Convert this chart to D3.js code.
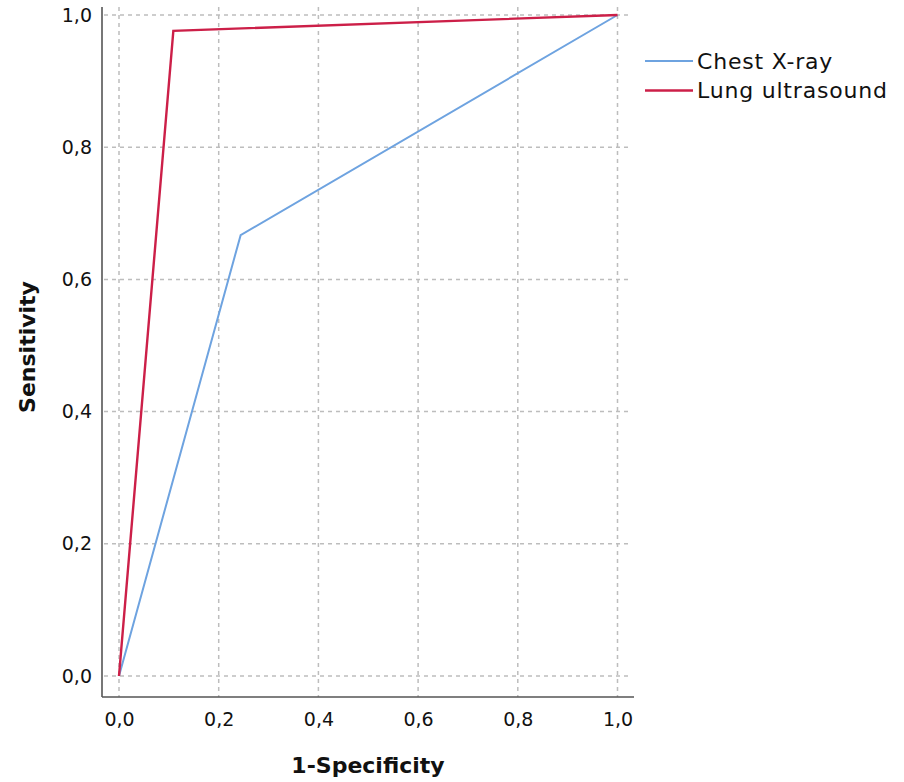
<!DOCTYPE html>
<html>
<head>
<meta charset="utf-8">
<script src="https://cdn.jsdelivr.net/npm/d3@7"></script>
<style>
  html, body { margin: 0; padding: 0; background: #fff; }
  svg { display: block; }
  text { font-family: "DejaVu Sans", sans-serif; fill: #111; }
</style>
</head>
<body>
<svg id="chart" width="904" height="782"></svg>
<script>
// ROC curves: 1-specificity vs sensitivity
const seriesNames = ["Chest X-ray", "Lung ultrasound"];
const seriesColors = ["#6ea3e0", "#cc1f48"];
const chestFpr = [0, 0.244, 1];
const chestTpr = [0, 0.667, 1];
const lungFpr = [0, 0.109, 1];
const lungTpr = [0, 0.976, 1];
const tickValues = [0, 0.2, 0.4, 0.6, 0.8, 1.0];
const tickLabels = ["0,0", "0,2", "0,4", "0,6", "0,8", "1,0"];

const svg = d3.select("#chart");

const x = d3.scaleLinear().domain([0, 1]).range([119, 617.5]);
const y = d3.scaleLinear().domain([0, 1]).range([676, 15]);

const axisLeftX = 102, axisBottomY = 697, plotTop = 7, plotRight = 634;

// dashed grid
const grid = svg.append("g").attr("stroke", "#bdbdbd").attr("stroke-width", 1.5)
  .attr("stroke-dasharray", "4,4");
grid.selectAll("line.h").data(tickValues).join("line")
  .attr("class", "h")
  .attr("x1", axisLeftX + 2).attr("x2", 628)
  .attr("y1", d => y(d)).attr("y2", d => y(d));
grid.selectAll("line.v").data(tickValues).join("line")
  .attr("class", "v")
  .attr("x1", d => x(d)).attr("x2", d => x(d))
  .attr("y1", plotTop).attr("y2", axisBottomY);

// axes built with d3 axis generators, using the custom labels
const xAxis = d3.axisBottom(x).tickValues(tickValues)
  .tickFormat((d, i) => tickLabels[i]).tickSize(0).tickPadding(16);
const yAxis = d3.axisLeft(y).tickValues(tickValues)
  .tickFormat((d, i) => tickLabels[i]).tickSize(0).tickPadding(10);

const gx = svg.append("g").attr("transform", `translate(0,${axisBottomY})`).call(xAxis);
gx.select(".domain").remove();
gx.selectAll("text").attr("font-size", 19).attr("font-family", "DejaVu Sans").attr("fill", "#111");

const gy = svg.append("g").attr("transform", `translate(${axisLeftX},0)`).call(yAxis);
gy.select(".domain").remove();
gy.selectAll("text").attr("font-size", 19).attr("font-family", "DejaVu Sans").attr("fill", "#111");

// axis lines
svg.append("line").attr("x1", axisLeftX).attr("x2", axisLeftX)
  .attr("y1", plotTop).attr("y2", axisBottomY)
  .attr("stroke", "#555").attr("stroke-width", 1.6);
svg.append("line").attr("x1", axisLeftX).attr("x2", plotRight)
  .attr("y1", axisBottomY).attr("y2", axisBottomY)
  .attr("stroke", "#555").attr("stroke-width", 1.6);

// curves
const line = d3.line().x(d => x(d[0])).y(d => y(d[1]));
const curves = [
  { name: seriesNames[0], color: seriesColors[0], width: 2, pts: chestFpr.map((v, i) => [v, chestTpr[i]]) },
  { name: seriesNames[1], color: seriesColors[1], width: 2.4, pts: lungFpr.map((v, i) => [v, lungTpr[i]]) }
];
svg.append("g").selectAll("path").data(curves).join("path")
  .attr("d", d => line(d.pts))
  .attr("fill", "none")
  .attr("stroke", d => d.color)
  .attr("stroke-width", d => d.width)
  .attr("stroke-linejoin", "miter");

// axis titles
svg.append("text").attr("x", 368).attr("y", 773)
  .attr("text-anchor", "middle").attr("font-size", 22).attr("font-weight", "bold")
  .text("1-Specificity");
svg.append("text").attr("transform", "translate(35,347) rotate(-90)")
  .attr("text-anchor", "middle").attr("font-size", 22).attr("font-weight", "bold")
  .text("Sensitivity");

// legend
const legend = svg.append("g");
const lg = legend.selectAll("g").data(curves).join("g")
  .attr("transform", (d, i) => `translate(645,${61 + i * 29.5})`);
lg.append("line").attr("x1", 0).attr("x2", 48).attr("y1", 0).attr("y2", 0)
  .attr("stroke", d => d.color).attr("stroke-width", d => d.width);
lg.append("text").attr("x", 52).attr("y", 0).attr("dy", "0.35em")
  .attr("font-size", 22).attr("letter-spacing", 0.8)
  .text(d => d.name);
</script>
</body>
</html>
